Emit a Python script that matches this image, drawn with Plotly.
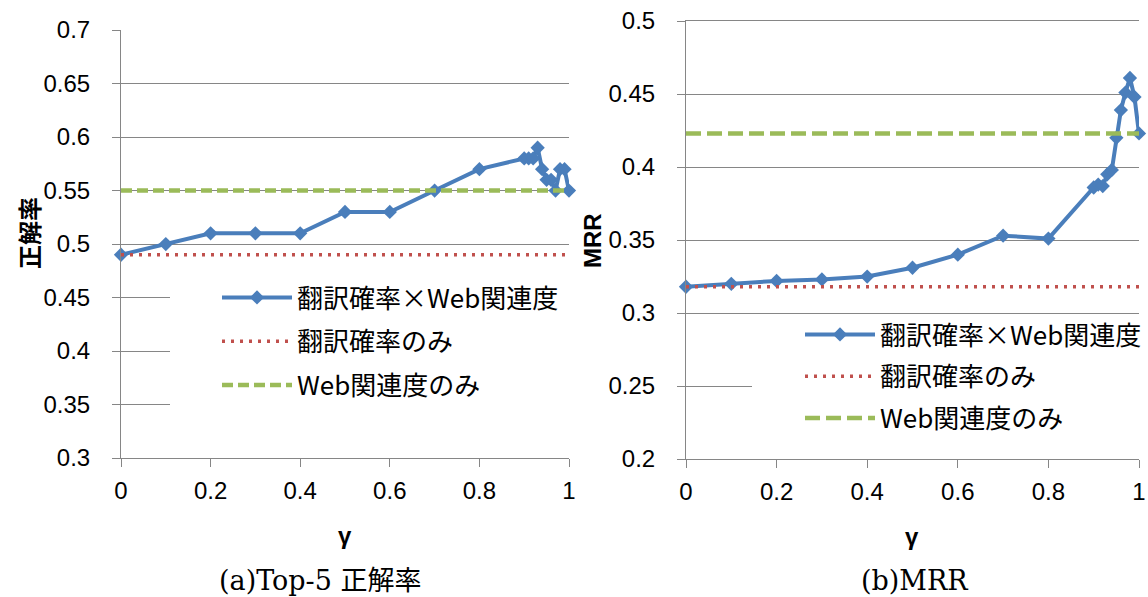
import plotly.graph_objects as go

# ---- data ----
gamma = [0, 0.1, 0.2, 0.3, 0.4, 0.5, 0.6, 0.7, 0.8, 0.9, 0.91, 0.92, 0.93, 0.94,
         0.95, 0.96, 0.97, 0.98, 0.99, 1.0]
top5_combined = [0.49, 0.50, 0.51, 0.51, 0.51, 0.53, 0.53, 0.55, 0.57, 0.58, 0.58,
                 0.58, 0.59, 0.57, 0.56, 0.56, 0.55, 0.57, 0.57, 0.55]
top5_trans_only = 0.49
top5_web_only = 0.55
mrr_combined = [0.318, 0.320, 0.322, 0.323, 0.325, 0.331, 0.340, 0.353, 0.351, 0.386,
                0.388, 0.387, 0.395, 0.398, 0.420, 0.439, 0.451, 0.461, 0.448, 0.423]
mrr_trans_only = 0.318
mrr_web_only = 0.423
baseline_x = [0, 1]

series_names = ["翻訳確率×Web関連度", "翻訳確率のみ", "Web関連度のみ"]
x_tickvals = [0, 0.2, 0.4, 0.6, 0.8, 1]
x_ticktext = ["0", "0.2", "0.4", "0.6", "0.8", "1"]
top5_tickvals = [0.3, 0.35, 0.4, 0.45, 0.5, 0.55, 0.6, 0.65, 0.7]
top5_ticktext = ["0.3", "0.35", "0.4", "0.45", "0.5", "0.55", "0.6", "0.65", "0.7"]
mrr_tickvals = [0.2, 0.25, 0.3, 0.35, 0.4, 0.45, 0.5]
mrr_ticktext = ["0.2", "0.25", "0.3", "0.35", "0.4", "0.45", "0.5"]

BLUE = "#4A7EBB"
RED = "#C0504D"
GREEN = "#9BBB59"
GRID = "#868686"
W, H = 1148, 597
OFF = 0  # body margin is removed by the post script below


def fx(p):
    return (p - OFF) / W


def fy(p):
    return 1 - (p - OFF) / H


fig = go.Figure()


def add_panel(xa, ya, legend, combined, trans_only, web_only, dash_green):
    fig.add_trace(go.Scatter(
        x=gamma, y=combined, mode="lines+markers", name=series_names[0],
        line=dict(color=BLUE, width=4), marker=dict(symbol="diamond", size=11, color=BLUE),
        xaxis=xa, yaxis=ya, legend=legend, legendgroup=legend + "a", cliponaxis=False))
    fig.add_trace(go.Scatter(
        x=baseline_x, y=[trans_only, trans_only], mode="lines", name=series_names[1],
        line=dict(color=RED, width=3.5, dash="3px,6px"),
        xaxis=xa, yaxis=ya, legend=legend, legendgroup=legend + "b", cliponaxis=False))
    fig.add_trace(go.Scatter(
        x=baseline_x, y=[web_only, web_only], mode="lines", name=series_names[2],
        line=dict(color=GREEN, width=4.5, dash=dash_green),
        xaxis=xa, yaxis=ya, legend=legend, legendgroup=legend + "c", cliponaxis=False))


add_panel("x", "y", "legend", top5_combined, top5_trans_only, top5_web_only, "11px,5px")
add_panel("x2", "y2", "legend2", mrr_combined, mrr_trans_only, mrr_web_only, "15px,6px")

tickfont = dict(family="Liberation Sans, Arial, sans-serif", size=24, color="#000000")
common_x = dict(range=[0, 1], tickvals=x_tickvals, ticktext=x_ticktext, showgrid=False,
                showline=True, linecolor=GRID, linewidth=1, ticks="outside", ticklen=8,
                tickcolor=GRID, tickfont=tickfont, zeroline=False, ticklabelstandoff=3,
                automargin=False, ticklabeloverflow="allow")
common_y = dict(showgrid=True, gridcolor=GRID, gridwidth=1, showline=True, linecolor=GRID,
                linewidth=1, ticks="outside", ticklen=8, tickcolor=GRID, tickfont=tickfont,
                zeroline=False, automargin=False, ticklabelstandoff=17,
                ticklabeloverflow="allow")

legend_font = dict(family="Noto Sans CJK JP, sans-serif", size=26, color="#000000")
fig.update_layout(
    width=W, height=H, margin=dict(l=0, r=0, t=0, b=0, autoexpand=False),
    paper_bgcolor="white", plot_bgcolor="white",
    xaxis=dict(domain=[fx(121), fx(569)], anchor="y", **common_x),
    yaxis=dict(domain=[fy(458), fy(30)], anchor="x", range=[0.3, 0.70005],
               tickvals=top5_tickvals, ticktext=top5_ticktext, **common_y),
    xaxis2=dict(domain=[fx(686), fx(1139)], anchor="y2", mirror=True, **common_x),
    yaxis2=dict(domain=[fy(459), fy(21)], anchor="x2", range=[0.2, 0.50005],
                tickvals=mrr_tickvals, ticktext=mrr_ticktext, **common_y),
    legend=dict(x=fx(217), y=fy(274), xanchor="left", yanchor="top",
                bgcolor="rgba(0,0,0,0)", font=legend_font, tracegroupgap=7, itemwidth=70),
    legend2=dict(x=fx(800), y=fy(311), xanchor="left", yanchor="top",
                 bgcolor="rgba(0,0,0,0)", font=legend_font, tracegroupgap=5, itemwidth=70),
    showlegend=True,
)

# white legend boxes hiding the gridlines behind the legends
fig.add_shape(type="rect", xref="paper", yref="paper", layer="above",
              x0=fx(170), x1=fx(575), y0=fy(432), y1=fy(268),
              fillcolor="white", line_width=0)
fig.add_shape(type="rect", xref="paper", yref="paper", layer="above",
              x0=fx(752), x1=fx(1148), y0=fy(442), y1=fy(318),
              fillcolor="white", line_width=0)

ann_font_bold = dict(family="Noto Sans CJK JP, sans-serif", size=24, color="#000000")
label_font = dict(family="Liberation Sans, Arial, sans-serif", size=24, color="#000000")
cap_font = dict(family="DejaVu Serif, Noto Sans CJK JP, serif", size=27, color="#000000")
annotations = [
    dict(text="<b>正解率</b>", x=fx(28), y=fy(233), textangle=-90, font=ann_font_bold),
    dict(text="<b>MRR</b>", x=fx(592), y=fy(241), textangle=-90, font=label_font),
    dict(text="<b>γ</b>", x=fx(345), y=fy(535), font=label_font),
    dict(text="<b>γ</b>", x=fx(912), y=fy(536), font=label_font),
    dict(text="(a)Top-5 正解率", x=fx(320), y=fy(580), font=cap_font),
    dict(text="(b)MRR", x=fx(915), y=fy(580), font=cap_font),
]
for a in annotations:
    a.update(xref="paper", yref="paper", showarrow=False, xanchor="center", yanchor="middle")
fig.update_layout(annotations=annotations)

fig.write_html("out.html", config={"displayModeBar": False},
               post_script="document.body.style.margin='0px';")
